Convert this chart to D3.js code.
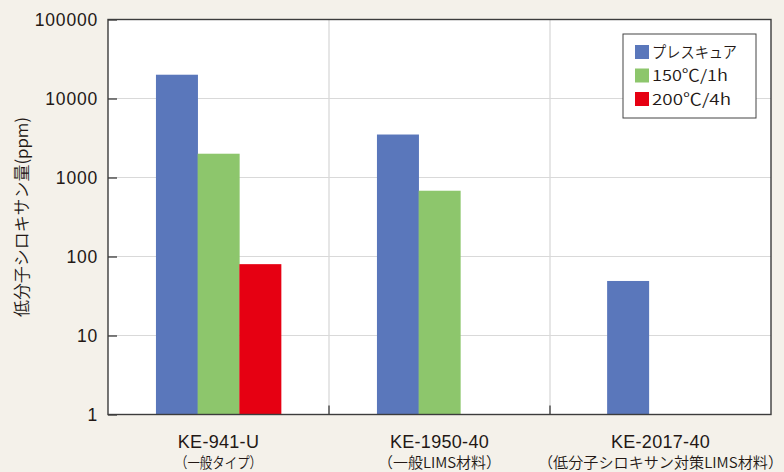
<!DOCTYPE html>
<html><head><meta charset="utf-8">
<script src="https://cdn.jsdelivr.net/npm/d3@7"></script>
<style>body{margin:0;background:#f4f1ea;} svg{display:block}</style>
</head><body><svg id="c" width="784" height="472"></svg>
<script>
// ---- data ----
const categories = ["KE-941-U", "KE-1950-40", "KE-2017-40"];
const subLabels = ["（一般タイプ）", "（一般LIMS材料）", "（低分子シロキサン対策LIMS材料）"];
const seriesNames = ["プレスキュア", "150℃/1h", "200℃/4h"];
const pressCure = [20000, 3500, 49];
const cure150 = [2000, 680, null];
const cure200 = [80, null, null];
const yTicks = [1, 10, 100, 1000, 10000, 100000];
const yTickLabels = ["1", "10", "100", "1000", "10000", "100000"];
const yTitle = "低分子シロキサン量(ppm)";

// ---- layout / style ----
const seriesValues = [pressCure, cure150, cure200];
const colors = ["#5a77bb", "#8dc66c", "#e60012"];
const subLabelWidths = [87, 123, 245];
const legendWidths = [85, 76, 79];
const L = 108, R = 771, T = 19.5, B = 414.5;
const textColor = "#231815";
const jpFont = "'Noto Sans CJK JP', sans-serif";
const jpWeight = 350;
const svg = d3.select("#c");

const x0 = d3.scaleBand().domain(categories).range([L, R]).padding(0);
const x1 = d3.scaleBand().domain(seriesNames).range([0, x0.bandwidth()]).paddingInner(0).paddingOuter(1.15);
const y = d3.scaleLog().domain([1, 100000]).range([B, T]);

// plot background
svg.append("rect").attr("x", L).attr("y", T).attr("width", R - L).attr("height", B - T).attr("fill", "#ffffff");

// horizontal gridlines
svg.append("g").selectAll("line").data(yTicks.slice(1, -1)).join("line")
  .attr("x1", L).attr("x2", R).attr("y1", d => y(d)).attr("y2", d => y(d))
  .attr("stroke", "#d9d9d9").attr("stroke-width", 1.2);

// vertical gridlines at group boundaries
svg.append("g").selectAll("line").data(categories.slice(1)).join("line")
  .attr("x1", d => x0(d)).attr("x2", d => x0(d)).attr("y1", T).attr("y2", B)
  .attr("stroke", "#d9d9d9").attr("stroke-width", 1.3);

// bars
const bars = [];
categories.forEach((c, i) => {
  const present = seriesValues.filter(s => s[i] != null).length;
  const shift = present === 1 ? x1.bandwidth() * 0.22 : 0;
  seriesNames.forEach((s, j) => {
    const v = seriesValues[j][i];
    if (v != null) bars.push({c, s, v, j, shift});
  });
});
svg.append("g").selectAll("rect").data(bars).join("rect")
  .attr("x", d => x0(d.c) + x1(d.s) + d.shift)
  .attr("width", x1.bandwidth() + 0.3)
  .attr("y", d => y(d.v))
  .attr("height", d => y(1) - y(d.v))
  .attr("fill", d => colors[d.j]);

// x-axis inward ticks at group boundaries
svg.append("g").selectAll("line").data(categories.slice(1)).join("line")
  .attr("x1", d => x0(d)).attr("x2", d => x0(d)).attr("y1", B).attr("y2", B - 9)
  .attr("stroke", "#3c3c3c").attr("stroke-width", 1.3);

// y axis
const yAxis = d3.axisLeft(y).tickValues(yTicks)
  .tickFormat((d, i) => yTickLabels[i]).tickSizeInner(-9).tickSizeOuter(0).tickPadding(10);
const ga = svg.append("g").attr("transform", `translate(${L},0)`).call(yAxis);
ga.select(".domain").remove();
ga.selectAll(".tick line").attr("stroke", "#3c3c3c").attr("stroke-width", 1.3);
ga.selectAll(".tick text").attr("fill", textColor)
  .style("font-family", "'Liberation Sans', Arial, sans-serif").style("font-size", "17.5px")
  .style("letter-spacing", "0.8px").attr("dy", "0.36em");

// frame
svg.append("rect").attr("x", L).attr("y", T).attr("width", R - L).attr("height", B - T)
  .attr("fill", "none").attr("stroke", "#3c3c3c").attr("stroke-width", 1.4);

// category labels
svg.append("g").selectAll("text").data(categories).join("text")
  .attr("x", d => x0(d) + x0.bandwidth() / 2).attr("y", 448)
  .attr("text-anchor", "middle").attr("fill", textColor)
  .style("font-family", "'Liberation Sans', Arial, sans-serif").style("font-size", "18px")
  .style("letter-spacing", "0.3px")
  .text(d => d);
svg.append("g").selectAll("text").data(subLabels).join("text")
  .attr("x", (d, i) => x0(categories[i]) + x0.bandwidth() / 2).attr("y", 468)
  .attr("text-anchor", "middle").attr("fill", textColor)
  .attr("textLength", (d, i) => subLabelWidths[i]).attr("lengthAdjust", "spacingAndGlyphs")
  .style("font-family", jpFont).style("font-size", "15px").style("font-weight", jpWeight)
  .text(d => d);

// y title
svg.append("text").attr("transform", "translate(28,217) rotate(-90)")
  .attr("text-anchor", "middle").attr("fill", textColor)
  .attr("textLength", 200).attr("lengthAdjust", "spacingAndGlyphs")
  .style("font-family", jpFont).style("font-size", "16.5px").style("font-weight", jpWeight)
  .text(yTitle);

// legend
const lg = svg.append("g");
lg.append("rect").attr("x", 623).attr("y", 34).attr("width", 133).attr("height", 84)
  .attr("fill", "#ffffff").attr("stroke", "#444").attr("stroke-width", 1);
const items = lg.selectAll("g").data(seriesNames).join("g")
  .attr("transform", (d, i) => `translate(635,${52 + i * 23.5})`);
items.append("rect").attr("x", 0).attr("y", -7).attr("width", 14).attr("height", 14)
  .attr("fill", (d, i) => colors[i]);
items.append("text").attr("x", 17).attr("y", 5.5).attr("fill", textColor)
  .attr("textLength", (d, i) => legendWidths[i]).attr("lengthAdjust", "spacingAndGlyphs")
  .style("font-family", jpFont).style("font-size", "15.5px").style("font-weight", jpWeight)
  .text(d => d);
</script>
</body></html>
